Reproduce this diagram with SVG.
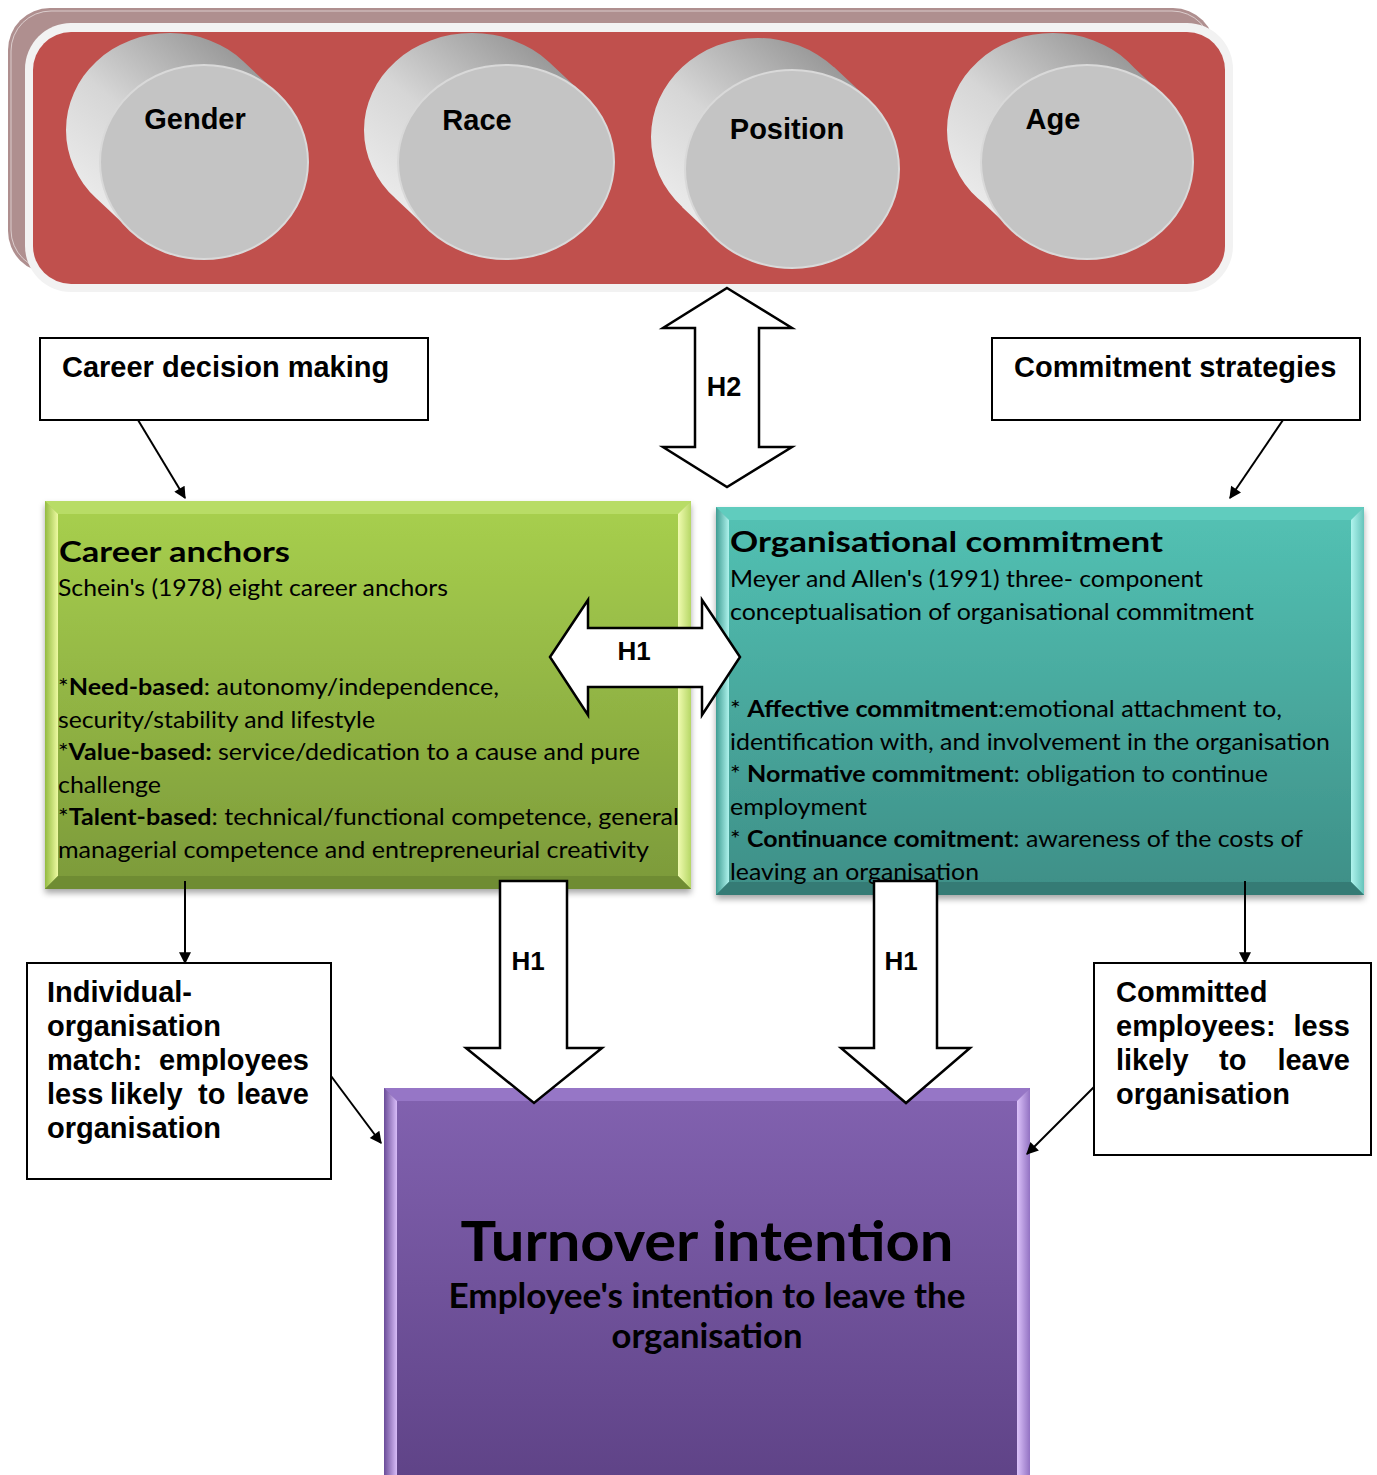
<svg xmlns="http://www.w3.org/2000/svg" width="1377" height="1475" viewBox="0 0 1377 1475">
  <style>
    .lbl { font-family: "Liberation Sans", Arial, sans-serif; font-weight: bold; fill: #000; }
    .cal { font-family: Lato, "Open Sans", sans-serif; fill: #000; }
    .b { font-weight: bold; }
    .box { fill: #fff; stroke: #000; stroke-width: 2; }
    .conn { stroke: #000; stroke-width: 2; fill: none; }
    .block { fill: #fff; stroke: #000; stroke-width: 2.5; stroke-linejoin: miter; }
    .face { fill: #c4c4c4; stroke: #d9d9d9; stroke-width: 2; }
  </style>
  <defs>
    <marker id="ah" viewBox="0 0 10 10" refX="9" refY="5" markerWidth="14" markerHeight="12" markerUnits="userSpaceOnUse" orient="auto">
      <path d="M0,0 L10,5 L0,10 z" fill="#000"/>
    </marker>
    <linearGradient id="cylSide" x1="0" y1="0.9" x2="0.75" y2="0.05">
      <stop offset="0" stop-color="#f0f0f0"/>
      <stop offset="0.5" stop-color="#d6d6d6"/>
      <stop offset="1" stop-color="#999999"/>
    </linearGradient>
    <linearGradient id="gFill" x1="0" y1="0" x2="0" y2="1">
      <stop offset="0" stop-color="#a8d04e"/>
      <stop offset="1" stop-color="#7c9a3a"/>
    </linearGradient>
    <linearGradient id="tFill" x1="0" y1="0" x2="0" y2="1">
      <stop offset="0" stop-color="#53c2b4"/>
      <stop offset="1" stop-color="#3e8f87"/>
    </linearGradient>
    <linearGradient id="pFill" x1="0" y1="0" x2="0" y2="1">
      <stop offset="0" stop-color="#8262b0"/>
      <stop offset="1" stop-color="#5f4387"/>
    </linearGradient>
    <linearGradient id="gLeft" x1="0" y1="0" x2="1" y2="0">
      <stop offset="0" stop-color="#93bb40"/>
      <stop offset="1" stop-color="#eefaa2"/>
    </linearGradient>
    <linearGradient id="gRight" x1="0" y1="0" x2="1" y2="0">
      <stop offset="0" stop-color="#f0fbb0"/>
      <stop offset="1" stop-color="#b6d766"/>
    </linearGradient>
    <linearGradient id="tLeft" x1="0" y1="0" x2="1" y2="0">
      <stop offset="0" stop-color="#3f9d93"/>
      <stop offset="1" stop-color="#aef2ec"/>
    </linearGradient>
    <linearGradient id="tRight" x1="0" y1="0" x2="1" y2="0">
      <stop offset="0" stop-color="#b0f4ee"/>
      <stop offset="1" stop-color="#66c4bb"/>
    </linearGradient>
    <linearGradient id="pLeft" x1="0" y1="0" x2="1" y2="0">
      <stop offset="0" stop-color="#6a4c98"/>
      <stop offset="1" stop-color="#d8bcf8"/>
    </linearGradient>
    <linearGradient id="pRight" x1="0" y1="0" x2="1" y2="0">
      <stop offset="0" stop-color="#dcc2fa"/>
      <stop offset="1" stop-color="#9272c2"/>
    </linearGradient>
    <filter id="sh" x="-5%" y="-5%" width="112%" height="115%">
      <feDropShadow dx="0" dy="4" stdDeviation="3" flood-color="#000" flood-opacity="0.35"/>
    </filter>
  </defs>

  <!-- demographic banner -->
  <g id="demographics">
    <rect x="8" y="8" width="1207" height="265" rx="42" fill="#af8f8f"/>
    <rect x="11" y="11" width="1201" height="259" rx="40" fill="none" stroke="#fff" stroke-opacity="0.55" stroke-width="1"/>
    <rect x="25" y="23" width="1208" height="269" rx="46" fill="#f2f2f2"/>
    <rect x="33" y="32" width="1192" height="252" rx="38" fill="#c0504d"/>
  </g>

  <g id="gender">
    <path d="M66,130 A104,97 0 1 1 274,130 A104,97 0 1 1 66,130 Z M96,198 L244,62 L278,94 L130,230 Z" fill="url(#cylSide)"/>
    <ellipse class="face" cx="204" cy="162" rx="104" ry="97"/>
    <text class="lbl" x="195" y="129" font-size="29" text-anchor="middle">Gender</text>
  </g>
  <g id="race">
    <path d="M364,130 A108,97 0 1 1 580,130 A108,97 0 1 1 364,130 Z M395,198 L549,62 L583,94 L429,230 Z" fill="url(#cylSide)"/>
    <ellipse class="face" cx="506" cy="162" rx="108" ry="97"/>
    <text class="lbl" x="477" y="130" font-size="29" text-anchor="middle">Race</text>
  </g>
  <g id="position">
    <path d="M651,137 A107,99 0 1 1 865,137 A107,99 0 1 1 651,137 Z M682,207 L834,67 L868,99 L716,239 Z" fill="url(#cylSide)"/>
    <ellipse class="face" cx="792" cy="169" rx="107" ry="99"/>
    <text class="lbl" x="787" y="139" font-size="29" text-anchor="middle">Position</text>
  </g>
  <g id="age">
    <path d="M947,130 A106,97 0 1 1 1159,130 A106,97 0 1 1 947,130 Z M978,198 L1128,62 L1162,94 L1012,230 Z" fill="url(#cylSide)"/>
    <ellipse class="face" cx="1087" cy="162" rx="106" ry="97"/>
    <text class="lbl" x="1053" y="129" font-size="29" text-anchor="middle">Age</text>
  </g>

  <!-- influencing factors -->
  <g id="career-decision">
    <rect class="box" x="40" y="338" width="388" height="82"/>
    <text class="lbl" x="62" y="377" font-size="29">Career decision making</text>
  </g>
  <g id="commitment-strategies">
    <rect class="box" x="992" y="338" width="368" height="82"/>
    <text class="lbl" x="1014" y="377" font-size="29">Commitment strategies</text>
  </g>

  <!-- career anchors -->
  <g id="career-anchors">
    <rect x="45" y="501" width="646" height="388" fill="url(#gFill)" filter="url(#sh)"/>
    <polygon points="45,501 691,501 678,514 58,514" fill="#b8dc66"/>
    <polygon points="45,501 58,514 58,876 45,889" fill="url(#gLeft)"/>
    <polygon points="691,501 691,889 678,876 678,514" fill="url(#gRight)"/>
    <polygon points="45,889 691,889 678,876 58,876" fill="#6f8c33"/>
    <text class="cal b" x="59" y="562" font-size="28" textLength="231" lengthAdjust="spacingAndGlyphs">Career anchors</text>
    <text class="cal" x="58" y="596" font-size="23" textLength="390" lengthAdjust="spacingAndGlyphs">Schein's (1978) eight career anchors</text>
    <text class="cal" x="58" y="695" font-size="23" textLength="441" lengthAdjust="spacingAndGlyphs">*<tspan class="b">Need-based</tspan>: autonomy/independence,</text>
    <text class="cal" x="58" y="727.5" font-size="23" textLength="317" lengthAdjust="spacingAndGlyphs">security/stability and lifestyle</text>
    <text class="cal" x="58" y="760" font-size="23" textLength="582" lengthAdjust="spacingAndGlyphs">*<tspan class="b">Value-based:</tspan> service/dedication to a cause and pure</text>
    <text class="cal" x="58" y="792.5" font-size="23" textLength="103" lengthAdjust="spacingAndGlyphs">challenge</text>
    <text class="cal" x="58" y="825" font-size="23" textLength="621" lengthAdjust="spacingAndGlyphs">*<tspan class="b">Talent-based</tspan>: technical/functional competence, general</text>
    <text class="cal" x="58" y="857.5" font-size="23" textLength="591" lengthAdjust="spacingAndGlyphs">managerial competence and entrepreneurial creativity</text>
  </g>

  <!-- organisational commitment -->
  <g id="org-commitment">
    <rect x="716" y="507" width="648" height="388" fill="url(#tFill)" filter="url(#sh)"/>
    <polygon points="716,507 1364,507 1351,520 729,520" fill="#60ccbe"/>
    <polygon points="716,507 729,520 729,882 716,895" fill="url(#tLeft)"/>
    <polygon points="1364,507 1364,895 1351,882 1351,520" fill="url(#tRight)"/>
    <polygon points="716,895 1364,895 1351,882 729,882" fill="#357b75"/>
    <text class="cal b" x="730" y="552" font-size="28" textLength="433" lengthAdjust="spacingAndGlyphs">Organisational commitment</text>
    <text class="cal" x="730" y="587" font-size="23" textLength="473" lengthAdjust="spacingAndGlyphs">Meyer and Allen's (1991) three- component</text>
    <text class="cal" x="730" y="619.5" font-size="23" textLength="524" lengthAdjust="spacingAndGlyphs">conceptualisation of organisational commitment</text>
    <text class="cal" x="730" y="717" font-size="23" textLength="552" lengthAdjust="spacingAndGlyphs">* <tspan class="b">Affective commitment</tspan>:emotional attachment to,</text>
    <text class="cal" x="730" y="749.5" font-size="23" textLength="600" lengthAdjust="spacingAndGlyphs">identification with, and involvement in the organisation</text>
    <text class="cal" x="730" y="782" font-size="23" textLength="538" lengthAdjust="spacingAndGlyphs">* <tspan class="b">Normative commitment</tspan>: obligation to continue</text>
    <text class="cal" x="730" y="814.5" font-size="23" textLength="137" lengthAdjust="spacingAndGlyphs">employment</text>
    <text class="cal" x="730" y="847" font-size="23" textLength="573" lengthAdjust="spacingAndGlyphs">* <tspan class="b">Continuance comitment</tspan>: awareness of the costs of</text>
    <text class="cal" x="730" y="879.5" font-size="23" textLength="249" lengthAdjust="spacingAndGlyphs">leaving an organisation</text>
  </g>

  <!-- outcome boxes (justified lines set word by word) -->
  <g id="individual-match">
    <rect class="box" x="27" y="963" width="304" height="216"/>
    <text class="lbl" x="47" y="1002" font-size="29">Individual-</text>
    <text class="lbl" x="47" y="1036" font-size="29">organisation</text>
    <text class="lbl" x="47" y="1070" font-size="29">match:</text>
    <text class="lbl" x="309" y="1070" font-size="29" text-anchor="end">employees</text>
    <text class="lbl" x="47" y="1104" font-size="29">less</text>
    <text class="lbl" x="110" y="1104" font-size="29">likely</text>
    <text class="lbl" x="198" y="1104" font-size="29">to</text>
    <text class="lbl" x="309" y="1104" font-size="29" text-anchor="end">leave</text>
    <text class="lbl" x="47" y="1138" font-size="29">organisation</text>
  </g>
  <g id="committed-employees">
    <rect class="box" x="1094" y="963" width="277" height="192"/>
    <text class="lbl" x="1116" y="1002" font-size="29">Committed</text>
    <text class="lbl" x="1116" y="1036" font-size="29">employees:</text>
    <text class="lbl" x="1350" y="1036" font-size="29" text-anchor="end">less</text>
    <text class="lbl" x="1116" y="1070" font-size="29">likely</text>
    <text class="lbl" x="1219" y="1070" font-size="29">to</text>
    <text class="lbl" x="1350" y="1070" font-size="29" text-anchor="end">leave</text>
    <text class="lbl" x="1116" y="1104" font-size="29">organisation</text>
  </g>

  <!-- turnover intention -->
  <g id="turnover-intention">
    <rect x="384" y="1088" width="646" height="392" fill="url(#pFill)"/>
    <polygon points="384,1088 1030,1088 1017,1101 397,1101" fill="#9676c6"/>
    <polygon points="384,1088 397,1101 397,1480 384,1480" fill="url(#pLeft)"/>
    <polygon points="1030,1088 1030,1480 1017,1480 1017,1101" fill="url(#pRight)"/>
    <text class="cal b" x="707" y="1261" font-size="55" text-anchor="middle" textLength="493" lengthAdjust="spacingAndGlyphs">Turnover intention</text>
    <text class="cal b" x="707" y="1308" font-size="35" text-anchor="middle" textLength="517" lengthAdjust="spacingAndGlyphs">Employee's intention to leave the</text>
    <text class="cal b" x="707" y="1348" font-size="35" text-anchor="middle" textLength="191" lengthAdjust="spacingAndGlyphs">organisation</text>
  </g>

  <!-- connectors and hypothesis arrows -->
  <g id="connectors">
    <line class="conn" x1="138" y1="420" x2="185" y2="498" marker-end="url(#ah)"/>
    <line class="conn" x1="1283" y1="420" x2="1230" y2="498" marker-end="url(#ah)"/>
    <line class="conn" x1="185" y1="881" x2="185" y2="963" marker-end="url(#ah)"/>
    <line class="conn" x1="1245" y1="881" x2="1245" y2="963" marker-end="url(#ah)"/>
    <line class="conn" x1="331" y1="1076" x2="381" y2="1143" marker-end="url(#ah)"/>
    <line class="conn" x1="1094" y1="1087" x2="1027" y2="1154" marker-end="url(#ah)"/>

    <g id="h2-arrow">
      <polygon class="block" points="727,288 792,328 759,328 759,447 792,447 727,487 663,447 695,447 695,328 663,328"/>
      <text class="lbl" x="724" y="396" font-size="27" text-anchor="middle">H2</text>
    </g>
    <g id="h1-link">
      <polygon class="block" points="550,657 588,600 588,628 702,628 702,600 740,657 702,715 702,687 588,687 588,715"/>
      <text class="lbl" x="634" y="660" font-size="26" text-anchor="middle">H1</text>
    </g>
    <g id="h1-anchors">
      <polygon class="block" points="500,881 567,881 567,1048 602,1048 534,1103 466,1048 500,1048"/>
      <text class="lbl" x="528" y="970" font-size="26" text-anchor="middle">H1</text>
    </g>
    <g id="h1-commitment">
      <polygon class="block" points="874,881 937,881 937,1048 970,1048 906,1103 841,1048 874,1048"/>
      <text class="lbl" x="901" y="970" font-size="26" text-anchor="middle">H1</text>
    </g>
  </g>
</svg>
